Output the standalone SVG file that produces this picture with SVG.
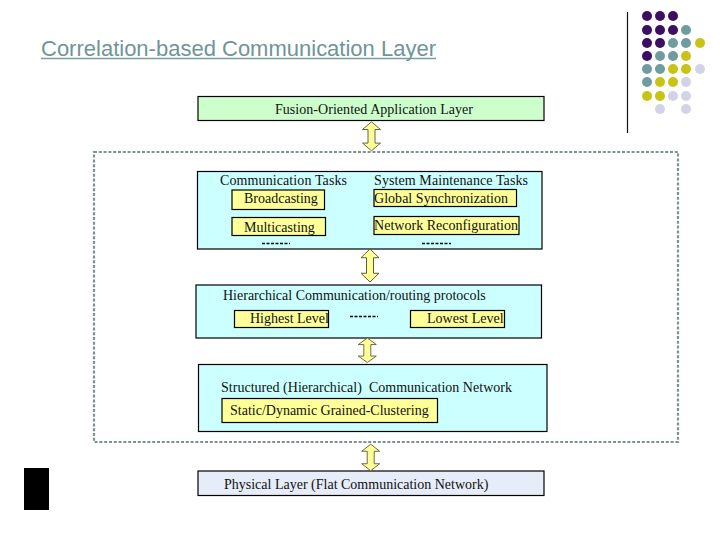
<svg xmlns="http://www.w3.org/2000/svg" width="720" height="540" viewBox="0 0 720 540">
<style>
text{font-family:"Liberation Serif","Times New Roman",serif;font-size:14px;fill:#111;white-space:pre}
.b{stroke:#000;stroke-width:1.2}
.l{fill:#ccffff}.y{fill:#ffff99}
.a{fill:#ffff99;stroke:#5a5a30;stroke-width:1}
.p{fill:#3d0f63}.t{fill:#6f9d9f}.g{fill:#c9c316}.v{fill:#d3d3e8}
.d{stroke:#000;stroke-width:1.6;stroke-dasharray:3 1.5;fill:none}
</style>
<defs>
<path id="arrow" d="M0 -17L9 -8H3.500V8H9L0 17L-9 8H-3.500V-8H-9Z"/>
</defs>
<rect width="720" height="540" fill="#fff"/>
<g id="title"><text x="41" y="56" style="font-family:'Liberation Sans',Arial,sans-serif;font-size:22px;fill:#6f9598" textLength="395">Correlation-based Communication Layer</text><line x1="41" y1="58.500" x2="436" y2="58.500" stroke="#7a9ea0" stroke-width="1.400"/></g>
<g id="decor">
<line x1="627.500" y1="12" x2="627.500" y2="133" stroke="#111" stroke-width="1.200"/>
<g class="p"><circle cx="647" cy="16" r="5"/><circle cx="660" cy="16" r="5"/><circle cx="673" cy="16" r="5"/><circle cx="647" cy="30" r="5"/><circle cx="660" cy="30" r="5"/><circle cx="673" cy="30" r="5"/><circle cx="647" cy="43" r="5"/><circle cx="660" cy="43" r="5"/><circle cx="647" cy="56" r="5"/></g>
<g class="t"><circle cx="686" cy="30" r="5"/><circle cx="673" cy="43" r="5"/><circle cx="686" cy="43" r="5"/><circle cx="660" cy="56" r="5"/><circle cx="673" cy="56" r="5"/><circle cx="647" cy="69" r="5"/><circle cx="660" cy="69" r="5"/><circle cx="647" cy="82" r="5"/></g>
<g class="g"><circle cx="700" cy="43" r="5"/><circle cx="686" cy="56" r="5"/><circle cx="673" cy="69" r="5"/><circle cx="686" cy="69" r="5"/><circle cx="660" cy="82" r="5"/><circle cx="673" cy="82" r="5"/><circle cx="647" cy="96" r="5"/><circle cx="660" cy="96" r="5"/></g>
<g class="v"><circle cx="700" cy="69" r="5"/><circle cx="686" cy="82" r="5"/><circle cx="673" cy="96" r="5"/><circle cx="686" cy="96" r="5"/><circle cx="660" cy="109" r="5"/><circle cx="686" cy="109" r="5"/></g>
<rect x="24" y="468" width="25" height="42" fill="#000"/>
</g>
<rect id="boundary" x="94" y="152" width="584" height="290" fill="none" stroke="#7e9294" stroke-width="2.200" stroke-dasharray="3 1.800"/>
<g id="fusion"><rect class="b" x="198" y="96.500" width="346" height="24" fill="#ccffcc"/><text x="275" y="114" textLength="198">Fusion-Oriented Application Layer</text></g>
<g id="tasks"><rect class="b l" x="197.500" y="171.500" width="344.500" height="77.500"/>
<text x="220" y="185" textLength="127">Communication Tasks</text><text x="374" y="185" textLength="154">System Maintenance Tasks</text>
<rect class="b y" x="232" y="190" width="92.500" height="19.500"/><text x="244" y="203">Broadcasting</text>
<rect class="b y" x="232" y="217.500" width="93.500" height="18"/><text x="244" y="232">Multicasting</text>
<rect class="b y" x="374" y="189.500" width="142.500" height="17"/><text x="374" y="203" textLength="134">Global Synchronization</text>
<rect class="b y" x="374" y="216.500" width="145" height="18"/><text x="374" y="230" textLength="144">Network Reconfiguration</text>
<line class="d" x1="262" y1="243.500" x2="290" y2="243.500"/><line class="d" x1="422" y1="243.500" x2="451" y2="243.500"/></g>
<g id="protocols"><rect class="b l" x="196" y="285" width="345.500" height="53"/>
<text x="223" y="300">Hierarchical Communication/routing protocols</text>
<rect class="b y" x="234.500" y="310.500" width="94" height="17"/><text x="250" y="323">Highest Level</text>
<rect class="b y" x="410.500" y="310.500" width="94" height="17"/><text x="427" y="323">Lowest Level</text>
<line class="d" x1="350" y1="316.500" x2="378" y2="316.500"/></g>
<g id="network"><rect class="b l" x="198.500" y="364.500" width="348.500" height="67"/>
<text x="221" y="392" textLength="291">Structured (Hierarchical)  Communication Network</text>
<rect class="b y" x="222" y="398.500" width="215.500" height="24"/><text x="230" y="415">Static/Dynamic Grained-Clustering</text></g>
<g id="physical"><rect class="b" x="198" y="471" width="346" height="24.500" fill="#e6ecf8"/><text x="224" y="489">Physical Layer (Flat Communication Network)</text></g>
<g id="connectors">
<use href="#arrow" class="a" transform="translate(371.500 136.300) scale(1 .85)"/>
<use href="#arrow" class="a" transform="translate(370 265.500) scale(1 .97)"/>
<use href="#arrow" class="a" transform="translate(367.300 350.300) scale(1 .72)"/>
<use href="#arrow" class="a" transform="translate(370.700 457.500) scale(1 .78)"/>
</g>
</svg>
